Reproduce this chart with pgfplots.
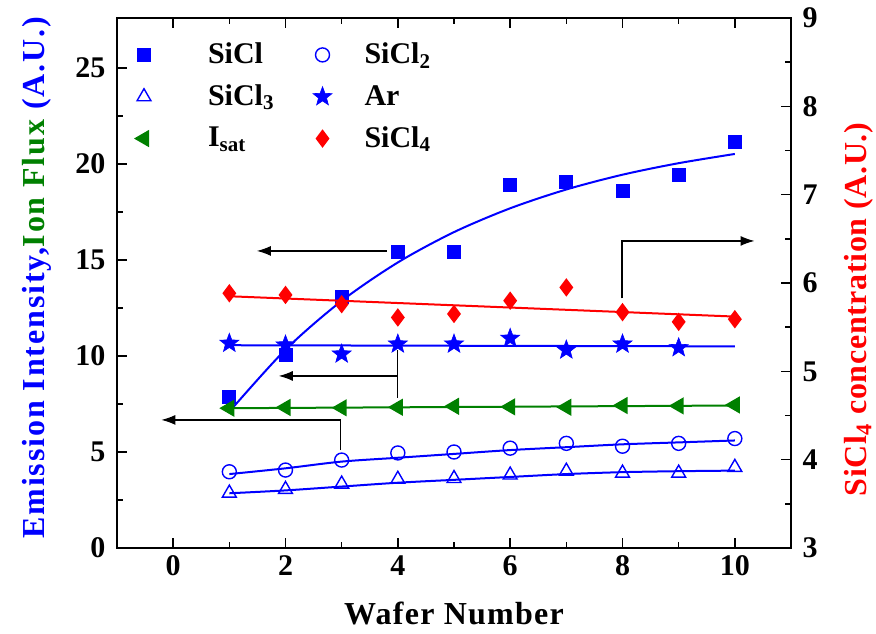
\documentclass[border=0pt]{standalone}
\usepackage{fontspec}
\setmainfont{Liberation Serif}
\usepackage{pgfplots}
\pgfplotsset{compat=1.18}
\usetikzlibrary{arrows.meta}
\definecolor{sblue}{RGB}{0,0,255}
\definecolor{sgreen}{RGB}{0,128,0}
\definecolor{sred}{RGB}{255,0,0}

% filled five-pointed star
\pgfdeclareplotmark{fstar}{%
  \pgfpathmoveto{\pgfqpointpolar{90}{\pgfplotmarksize}}%
  \pgfpathlineto{\pgfqpointpolar{126}{0.42\pgfplotmarksize}}%
  \pgfpathlineto{\pgfqpointpolar{162}{\pgfplotmarksize}}%
  \pgfpathlineto{\pgfqpointpolar{198}{0.42\pgfplotmarksize}}%
  \pgfpathlineto{\pgfqpointpolar{234}{\pgfplotmarksize}}%
  \pgfpathlineto{\pgfqpointpolar{270}{0.42\pgfplotmarksize}}%
  \pgfpathlineto{\pgfqpointpolar{306}{\pgfplotmarksize}}%
  \pgfpathlineto{\pgfqpointpolar{342}{0.42\pgfplotmarksize}}%
  \pgfpathlineto{\pgfqpointpolar{18}{\pgfplotmarksize}}%
  \pgfpathlineto{\pgfqpointpolar{54}{0.42\pgfplotmarksize}}%
  \pgfpathclose
  \pgfusepathqfillstroke
}

\begin{document}
\begin{tikzpicture}
\useasboundingbox (-58.5pt,-42.5pt) rectangle (379.5pt,274pt); % keep the page the size of the reference
\pgfplotsset{
  every axis/.append style={
    scale only axis, width=337pt, height=265pt,
    xmin=-1, xmax=11,
    line width=1pt,
    tick style={line width=0.8pt, black},
    major tick length=5pt, minor tick length=3pt,
    tick align=inside,
    font=\fontsize{15}{17}\selectfont\bfseries,
    /pgf/number format/assume math mode=true,
    label style={font=\fontsize{16}{18}\selectfont\bfseries},
  },
  limg/.style={legend image code/.code={\path[draw=none] (0pt,0pt) (40pt,0pt); \draw[##1] plot coordinates {(10pt,0pt)};}},
  rimg/.style={legend image code/.code={\path[draw=none] (0pt,0pt) (29pt,0pt); \draw[##1] plot coordinates {(10pt,0pt)};}},
}
\begin{axis}[
  at={(0,0)}, anchor=south west,
  ymin=0, ymax=27.6,
  xtick={0,2,...,10}, minor x tick num=1,
  ytick={0,5,...,25}, minor y tick num=1,
  ytick pos=left,
  yticklabel style={xshift=-2pt},
  xlabel={\addfontfeatures{LetterSpace=4}Wafer Number},
  xlabel style={at={(ticklabel cs:0.5,6pt)}},
  ylabel={\addfontfeatures{LetterSpace=5.8}\color{sblue}Emission Intensity,\color{sgreen}Ion Flux \color{sblue}(A.U.)},
  ylabel style={at={(ticklabel cs:0.51,5pt)}},
  legend columns=2,
  legend cell align=left,
  legend style={at={(axis description cs:0,1)}, anchor=north west,
      xshift=3pt, yshift=-10pt, draw=none, fill=none, inner sep=0pt,
      font=\fontsize{15}{17}\selectfont\bfseries,
      /tikz/every even column/.append style={column sep=12pt},
      row sep=5pt},
]
% fitted curves
\addplot[sblue, line width=1pt, smooth, forget plot] coordinates {
 (1,7.1) (2,10.33) (3,12.87) (4,14.87) (5,16.45) (6,17.69) (7,18.67) (8,19.44) (9,20.04) (10,20.52)};
\addplot[sblue, line width=1pt, smooth, forget plot] coordinates {
 (1,3.85) (2,4.15) (3,4.5) (4,4.7) (5,4.9) (6,5.1) (7,5.25) (8,5.4) (9,5.5) (10,5.6)};
\addplot[sblue, line width=1pt, smooth, forget plot] coordinates {
 (1,2.85) (2,3.0) (3,3.2) (4,3.4) (5,3.55) (6,3.7) (7,3.85) (8,3.95) (9,4.0) (10,4.03)};
\addplot[sblue, line width=1pt, forget plot] coordinates {(1,10.56) (10,10.5)};
\addplot[sgreen, line width=1pt, forget plot] coordinates {(1,7.28) (10,7.42)};

\addplot[limg, only marks, mark=square*, sblue, mark size=3pt] coordinates {
 (1,7.88) (2,10.05) (3,13.09) (4,15.43) (5,15.43) (6,18.9) (7,19.06) (8,18.6) (9,19.4) (10,21.15)};
\addlegendentry{SiCl}
\addplot[rimg, only marks, mark=o, sblue, mark size=3.5pt, mark options={line width=0.7pt}] coordinates {
 (1,3.97) (2,4.06) (3,4.58) (4,4.95) (5,5.0) (6,5.2) (7,5.45) (8,5.3) (9,5.45) (10,5.7)};
\addlegendentry{SiCl\textsubscript{2}}
\addplot[limg, only marks, mark=triangle, sblue, mark size=4pt, mark options={line width=0.7pt}] coordinates {
 (1,2.86) (2,3.05) (3,3.33) (4,3.58) (5,3.62) (6,3.8) (7,4.0) (8,3.9) (9,3.9) (10,4.2)};
\addlegendentry{SiCl\textsubscript{3}}
\addplot[rimg, only marks, mark=fstar, sblue, mark size=5pt, mark options={line width=0.3pt}] coordinates {
 (1,10.66) (2,10.57) (3,10.1) (4,10.62) (5,10.62) (6,10.92) (7,10.31) (8,10.62) (9,10.43)};
\addlegendentry{Ar}
\addplot[limg, only marks, mark=triangle*, sgreen, mark size=4pt, mark options={rotate=90}] coordinates {
 (1,7.28) (2,7.32) (3,7.3) (4,7.33) (5,7.38) (6,7.35) (7,7.33) (8,7.42) (9,7.4) (10,7.45)};
\addlegendentry{I\textsubscript{sat}}
\addlegendimage{rimg, only marks, mark=diamond*, sred, mark size=3.8pt}
\addlegendentry{SiCl\textsubscript{4}}

% arrows pointing to the axis each group belongs to
\draw[line width=0.6pt, -{Latex[length=7pt,width=5pt]}] (3.8,15.47) -- (1.49,15.47);
\draw[line width=0.6pt, -{Latex[length=7pt,width=5pt]}] (7.99,13.0) -- (7.99,15.99) -- (10.35,15.99);
\draw[line width=0.6pt] (4,10.3) -- (4,7.8);
\draw[line width=0.6pt, -{Latex[length=7pt,width=5pt]}] (4,8.96) -- (1.88,8.96);
\draw[line width=0.6pt, -{Latex[length=7pt,width=5pt]}] (2.98,5.1) -- (2.98,6.67) -- (-0.21,6.67);
\end{axis}

\begin{axis}[
  at={(0,0)}, anchor=south west,
  ymin=3, ymax=9,
  axis x line=none, axis y line*=right,
  ytick={3,...,9}, minor y tick num=1,
  yticklabel style={xshift=2pt},
  ylabel={\addfontfeatures{LetterSpace=2.1}\color{sred}SiCl\textsubscript{4} concentration (A.U.)},
  ylabel style={at={(ticklabel cs:0.45,6pt)}},
]
\addplot[sred, line width=1pt, forget plot] coordinates {(1,5.85) (10,5.62)};
\addplot[only marks, mark=diamond*, sred, mark size=3.8pt] coordinates {
 (1,5.884) (2,5.865) (3,5.76) (4,5.61) (5,5.65) (6,5.8) (7,5.95) (8,5.67) (9,5.56) (10,5.59)};
\end{axis}
\end{tikzpicture}
\end{document}
